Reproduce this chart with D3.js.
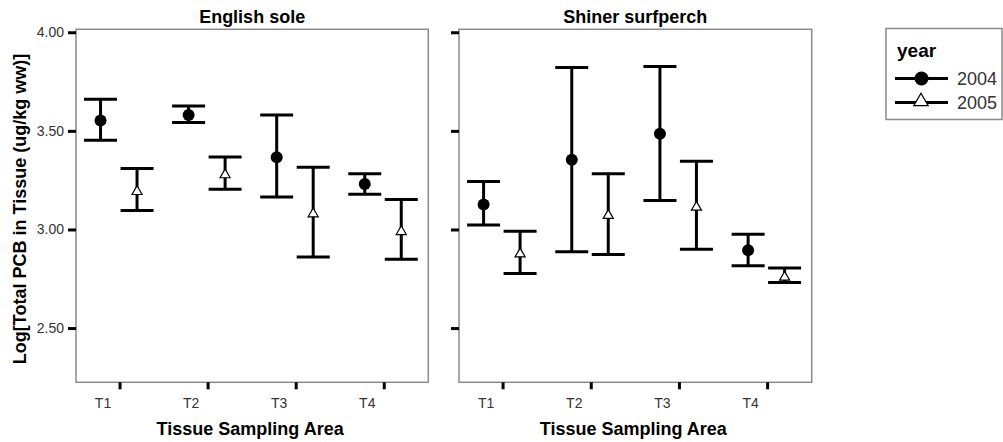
<!DOCTYPE html>
<html><head><meta charset="utf-8">
<script src="https://cdn.jsdelivr.net/npm/d3@7"></script>
<style>
body{margin:0;background:#fff;}
svg{display:block;font-family:"Liberation Sans",Arial,sans-serif;}
</style></head>
<body><svg id="c" width="1003" height="442"></svg>
<script>
const categories = ["T1","T2","T3","T4"];
const years = ["2004","2005"];
const panels = ["English sole","Shiner surfperch"];
const yTicks = [2.5, 3.0, 3.5, 4.0];

const soleMean2004 = [3.552, 3.581, 3.366, 3.230];
const soleLow2004  = [3.453, 3.542, 3.165, 3.179];
const soleHigh2004 = [3.660, 3.626, 3.581, 3.283];
const soleMean2005 = [3.192, 3.277, 3.079, 2.989];
const soleLow2005  = [3.096, 3.204, 2.861, 2.849];
const soleHigh2005 = [3.309, 3.368, 3.316, 3.152];

const perchMean2004 = [3.126, 3.353, 3.485, 2.895];
const perchLow2004  = [3.023, 2.887, 3.147, 2.816];
const perchHigh2004 = [3.243, 3.821, 3.826, 2.976];
const perchMean2005 = [2.876, 3.071, 3.113, 2.758];
const perchLow2005  = [2.777, 2.873, 2.900, 2.731];
const perchHigh2005 = [2.991, 3.283, 3.346, 2.804];

const panelData = [
  {title: panels[0], series: [
    {year: years[0], mean: soleMean2004, low: soleLow2004, high: soleHigh2004},
    {year: years[1], mean: soleMean2005, low: soleLow2005, high: soleHigh2005}]},
  {title: panels[1], series: [
    {year: years[0], mean: perchMean2004, low: perchLow2004, high: perchHigh2004},
    {year: years[1], mean: perchMean2005, low: perchLow2005, high: perchHigh2005}]}
];

const svg = d3.select("#c");
const FONT = "'Liberation Sans', Arial, sans-serif";
const plotTop = 29.3, plotBottom = 382.3;
const y = d3.scaleLinear().domain([2.225, 4.015]).range([plotBottom, plotTop]);
const panelX = [[76, 428.3], [459, 811.7]];
const sub = d3.scalePoint().domain(years).range([-19.5, 17]);
const capW = 33;
const triSym = d3.symbol().type(d3.symbolTriangle).size(44);
const triSymL = d3.symbol().type(d3.symbolTriangle).size(90);

panelData.forEach((p, i) => {
  const [x0, x1] = panelX[i];
  const x = d3.scaleBand().domain(categories).range([x0, x1]).padding(0);
  const cx = c => x(c) + x.bandwidth() / 2;
  const g = svg.append("g");

  g.append("rect").attr("x", x0).attr("y", plotTop).attr("width", x1 - x0).attr("height", plotBottom - plotTop)
    .attr("fill", "none").attr("stroke", "#8a8a8a").attr("stroke-width", 1.5);

  const ya = d3.axisLeft(y).tickValues(yTicks).tickSize(8).tickPadding(4)
    .tickFormat(i === 0 ? d3.format(".2f") : () => "");
  const yg = g.append("g").attr("transform", `translate(${x0},0)`).call(ya);
  yg.select(".domain").remove();
  yg.selectAll(".tick line").attr("stroke", "#000").attr("stroke-width", 3);
  yg.selectAll(".tick text").style("font-size", "14px").attr("fill", "#333").attr("font-family", FONT);

  const xa = d3.axisBottom(x).tickSize(7).tickSizeOuter(0).tickPadding(9);
  const xg = g.append("g").attr("transform", `translate(0,${plotBottom})`).call(xa);
  xg.select(".domain").remove();
  xg.selectAll(".tick line").attr("stroke", "#000").attr("stroke-width", 3);
  xg.selectAll(".tick text").style("font-size", "14px").attr("fill", "#333").attr("font-family", FONT).attr("dx", -17);

  g.append("text").attr("x", (x0 + x1) / 2).attr("y", 23).attr("text-anchor", "middle")
    .attr("font-size", 18).attr("font-weight", "bold").attr("font-family", FONT).text(p.title);
  g.append("text").attr("x", (x0 + x1) / 2 - 2).attr("y", 435).attr("text-anchor", "middle")
    .attr("font-size", 18).attr("font-weight", "bold").attr("font-family", FONT).text("Tissue Sampling Area");

  p.series.forEach(s => {
    categories.forEach((c, k) => {
      const px = cx(c) + sub(s.year);
      const eg = g.append("g").attr("stroke", "#000").attr("stroke-width", 3);
      eg.append("line").attr("x1", px).attr("x2", px).attr("y1", y(s.low[k])).attr("y2", y(s.high[k]));
      eg.append("line").attr("x1", px - capW/2).attr("x2", px + capW/2).attr("y1", y(s.low[k])).attr("y2", y(s.low[k]));
      eg.append("line").attr("x1", px - capW/2).attr("x2", px + capW/2).attr("y1", y(s.high[k])).attr("y2", y(s.high[k]));
      if (s.year === years[0]) {
        g.append("circle").attr("cx", px).attr("cy", y(s.mean[k])).attr("r", 6).attr("fill", "#000");
      } else {
        g.append("path").attr("d", triSym).attr("transform", `translate(${px},${y(s.mean[k])})`)
          .attr("fill", "#fff").attr("stroke", "#000").attr("stroke-width", 1.2);
      }
    });
  });
});

svg.append("text").attr("transform", "translate(26,209) rotate(-90)").attr("text-anchor", "middle")
  .attr("font-size", 18).attr("font-weight", "bold").attr("font-family", FONT)
  .text("Log[Total PCB in Tissue (ug/kg ww)]");

const lg = svg.append("g");
lg.append("rect").attr("x", 886).attr("y", 28.5).attr("width", 116).attr("height", 91)
  .attr("fill", "#fff").attr("stroke", "#8a8a8a").attr("stroke-width", 1.5);
lg.append("text").attr("x", 897).attr("y", 57).attr("font-size", 19).attr("font-weight", "bold")
  .attr("font-family", FONT).text("year");
const legY = d3.scalePoint().domain(years).range([78.5, 102.5]);
years.forEach((yr, j) => {
  const ly = legY(yr);
  lg.append("line").attr("x1", 895).attr("x2", 948).attr("y1", ly).attr("y2", ly)
    .attr("stroke", "#000").attr("stroke-width", 3);
  if (j === 0) lg.append("circle").attr("cx", 921.5).attr("cy", ly).attr("r", 7).attr("fill", "#000");
  else lg.append("path").attr("d", triSymL).attr("transform", `translate(921,${ly - 1})`)
    .attr("fill", "#fff").attr("stroke", "#000").attr("stroke-width", 1.2);
  lg.append("text").attr("x", 957).attr("y", ly).attr("dy", "0.35em").attr("font-size", 18)
    .attr("fill", "#333").attr("font-family", FONT).text(yr);
});
</script></body></html>
